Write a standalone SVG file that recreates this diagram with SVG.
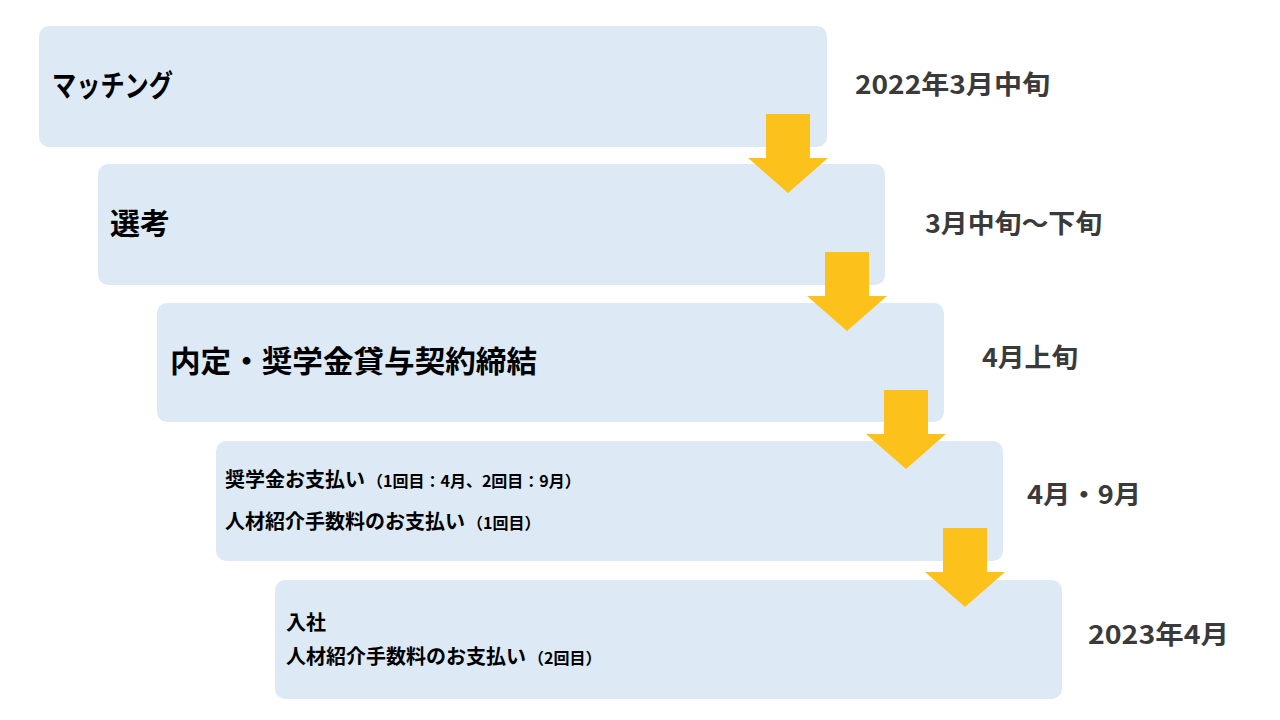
<svg xmlns="http://www.w3.org/2000/svg" width="1280" height="720" viewBox="0 0 1280 720">
<style>
.box{fill:#DDEAF6}
.ttl{font-family:"Noto Sans CJK JP","Noto Sans",sans-serif;font-weight:bold;font-size:30px;fill:#000}
.sub{font-family:"Noto Sans CJK JP","Noto Sans",sans-serif;font-weight:bold;font-size:20px;fill:#000}
.sm{font-size:16px}
.date{font-family:"Noto Sans CJK JP","Noto Sans",sans-serif;font-weight:bold;font-size:26px;fill:#3A3A3A}
.arr{fill:#FCC21B}
</style>
<rect width="1280" height="720" fill="#FFFFFF"/>
<g id="node1">
<rect class="box" x="39" y="26" width="788" height="121" rx="10"/>
<text class="ttl" x="52" y="96" textLength="121" lengthAdjust="spacingAndGlyphs">マッチング</text>
</g>
<g id="node2">
<rect class="box" x="98" y="164" width="787" height="121" rx="10"/>
<text class="ttl" x="110" y="234">選考</text>
</g>
<g id="node3">
<rect class="box" x="157" y="303" width="787" height="119" rx="10"/>
<text class="ttl" x="170" y="372" textLength="367" lengthAdjust="spacingAndGlyphs">内定・奨学金貸与契約締結</text>
</g>
<g id="node4">
<rect class="box" x="216" y="441" width="787" height="120" rx="10"/>
<text class="sub" x="225" y="487">奨学金お支払い<tspan class="sm" dx="2">（1回目：4月、2回目：9月）</tspan></text>
<text class="sub" x="225" y="529">人材紹介手数料のお支払い<tspan class="sm" dx="2">（1回目）</tspan></text>
</g>
<g id="node5">
<rect class="box" x="275" y="580" width="787" height="119" rx="10"/>
<text class="sub" x="286" y="630">入社</text>
<text class="sub" x="286" y="664">人材紹介手数料のお支払い<tspan class="sm" dx="2">（2回目）</tspan></text>
</g>
<g id="labels">
<text class="date" x="855" y="94" textLength="195" lengthAdjust="spacingAndGlyphs">2022年3月中旬</text>
<text class="date" x="925" y="233" textLength="177" lengthAdjust="spacingAndGlyphs">3月中旬～下旬</text>
<text class="date" x="982" y="367" textLength="96" lengthAdjust="spacingAndGlyphs">4月上旬</text>
<text class="date" x="1027" y="504" textLength="114" lengthAdjust="spacingAndGlyphs">4月・9月</text>
<text class="date" x="1088" y="644" textLength="141" lengthAdjust="spacingAndGlyphs">2023年4月</text>
</g>
<g id="connectors">
<polygon class="arr" points="766,114 810,114 810,158 828,158 788,193 748,158 766,158"/>
<polygon class="arr" points="825,252 869,252 869,296 887,296 847,331 807,296 825,296"/>
<polygon class="arr" points="884,390 928,390 928,434 946,434 906,469 866,434 884,434"/>
<polygon class="arr" points="943,528 987,528 987,572 1005,572 965,607 925,572 943,572"/>
</g>
</svg>
